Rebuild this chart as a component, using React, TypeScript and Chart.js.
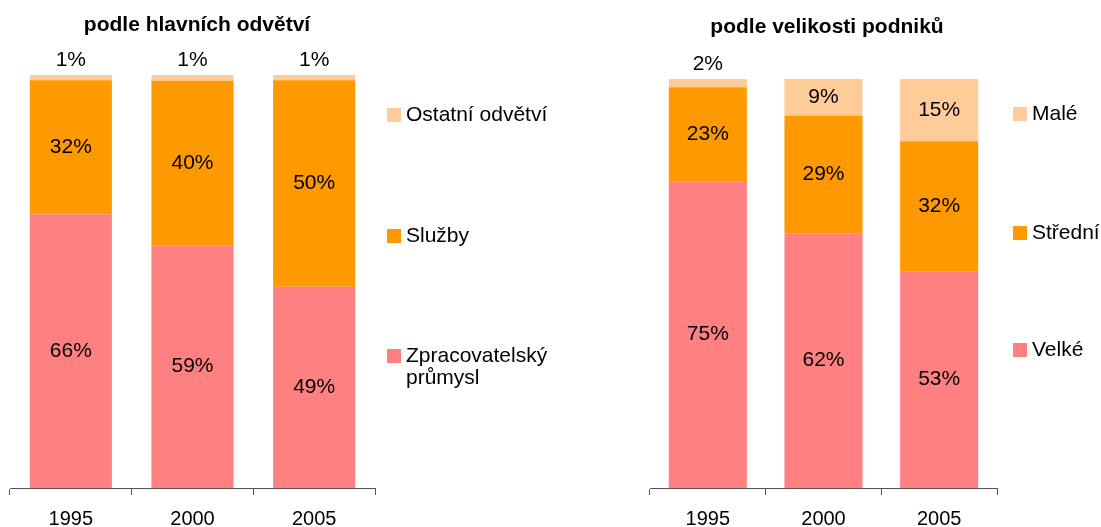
import React, { useEffect, useRef } from 'react';
import { Chart, registerables } from 'chart.js';

Chart.register(...registerables);

// ---------- data ----------
const years = ['1995', '2000', '2005'];

const sectorTitle = 'podle hlavních odvětví';
const sectorNames = ['Zpracovatelský průmysl', 'Služby', 'Ostatní odvětví'];
const sectorLegendLines = [['Zpracovatelský', 'průmysl'], ['Služby'], ['Ostatní odvětví']];
const manufacturing = [66.3, 58.8, 48.7];
const services = [32.4, 39.8, 50.0];
const otherSectors = [1.3, 1.4, 1.3];

const sizeTitle = 'podle velikosti podniků';
const sizeNames = ['Velké', 'Střední', 'Malé'];
const sizeLegendLines = [['Velké'], ['Střední'], ['Malé']];
const largeFirms = [75.0, 62.3, 53.0];
const mediumFirms = [23.0, 28.8, 31.8];
const smallFirms = [2.0, 8.9, 15.2];

const colors = ['#FF8080', '#FF9900', '#FFCC99'];
const FONT = '"Liberation Sans", Arial, Helvetica, sans-serif';

type Cfg = {
  left: number;
  width: number;
  height: number;
  padding: { left: number; right: number; top: number };
  title: string;
  titleX: number;
  titleY: number;
  legendX: number;
  legendYs: number[]; // ordered top-to-bottom (reverse of datasets)
  names: string[];
  legendLines: string[][];
  series: number[][];
};

const overlayPlugin = {
  id: 'overlay',
  afterDatasetsDraw(chart: any, _args: any, opts: any) {
    const cfg: Cfg = opts.cfg;
    const ctx = chart.ctx;
    ctx.save();
    // data labels
    ctx.font = `21px ${FONT}`;
    ctx.fillStyle = '#000';
    ctx.textAlign = 'center';
    ctx.textBaseline = 'middle';
    chart.data.datasets.forEach((ds: any, i: number) => {
      const meta = chart.getDatasetMeta(i);
      meta.data.forEach((el: any, j: number) => {
        const v = ds.data[j];
        const txt = Math.round(v) + '%';
        if (v < 5) {
          ctx.fillText(txt, el.x, el.y - 15);
        } else {
          ctx.fillText(txt, el.x, (el.y + el.base) / 2);
        }
      });
    });
    // title
    ctx.font = `bold 21px ${FONT}`;
    ctx.fillText(cfg.title, cfg.titleX, cfg.titleY);
    // legend
    ctx.font = `21px ${FONT}`;
    ctx.textAlign = 'left';
    const n = cfg.names.length;
    for (let k = 0; k < n; k++) {
      const dsIndex = n - 1 - k;
      const y = cfg.legendYs[k];
      ctx.fillStyle = colors[dsIndex];
      ctx.fillRect(cfg.legendX, y - 7, 14, 14);
      ctx.fillStyle = '#000';
      cfg.legendLines[dsIndex].forEach((line, li) => {
        ctx.fillText(line, cfg.legendX + 19, y + li * 22);
      });
    }
    ctx.restore();
  },
};

function StackedChart({ cfg }: { cfg: Cfg }) {
  const ref = useRef<HTMLCanvasElement | null>(null);
  useEffect(() => {
    if (!ref.current) return;
    const chart = new Chart(ref.current, {
      type: 'bar',
      data: {
        labels: years,
        datasets: cfg.series.map((s, i) => ({
          label: cfg.names[i],
          data: s,
          backgroundColor: colors[i],
          borderWidth: 0,
          categoryPercentage: 1,
          barPercentage: 0.675,
        })),
      },
      options: {
        responsive: false,
        animation: false,
        devicePixelRatio: 1,
        layout: { padding: { left: cfg.padding.left, right: cfg.padding.right, top: cfg.padding.top, bottom: 0 } },
        plugins: {
          legend: { display: false },
          title: { display: false },
          tooltip: { enabled: false },
          overlay: { cfg },
        } as any,
        scales: {
          x: {
            stacked: true,
            offset: true,
            grid: {
              display: true,
              offset: true,
              drawOnChartArea: false,
              drawTicks: true,
              tickLength: 7,
              color: '#555',
            },
            border: { display: true, color: '#555', width: 1 },
            ticks: {
              color: '#000',
              font: { family: FONT, size: 20 },
              padding: 12,
              maxRotation: 0,
            },
            afterFit: (scale: any) => {
              scale.height = 39;
            },
          },
          y: {
            stacked: true,
            display: false,
            min: 0,
            max: 100,
          },
        },
      },
      plugins: [overlayPlugin],
    });
    return () => chart.destroy();
  }, [cfg]);
  return (
    <canvas
      ref={ref}
      width={cfg.width}
      height={cfg.height}
      style={{ position: 'absolute', left: cfg.left, top: 0, width: cfg.width, height: cfg.height }}
    />
  );
}

const leftCfg: Cfg = {
  left: 0,
  width: 600,
  height: 527,
  padding: { left: 10, right: 225, top: 75 },
  title: sectorTitle,
  titleX: 197,
  titleY: 25,
  legendX: 387,
  legendYs: [115, 236, 356],
  names: sectorNames,
  legendLines: sectorLegendLines,
  series: [manufacturing, services, otherSectors],
};

const rightCfg: Cfg = {
  left: 600,
  width: 501,
  height: 527,
  padding: { left: 50, right: 104, top: 79 },
  title: sizeTitle,
  titleX: 227,
  titleY: 27,
  legendX: 413,
  legendYs: [114, 233, 350],
  names: sizeNames,
  legendLines: sizeLegendLines,
  series: [largeFirms, mediumFirms, smallFirms],
};

export default function App() {
  return (
    <div style={{ position: 'fixed', left: 0, top: 0, width: 1101, height: 527, background: '#fff', overflow: 'hidden' }}>
      <StackedChart cfg={leftCfg} />
      <StackedChart cfg={rightCfg} />
    </div>
  );
}
